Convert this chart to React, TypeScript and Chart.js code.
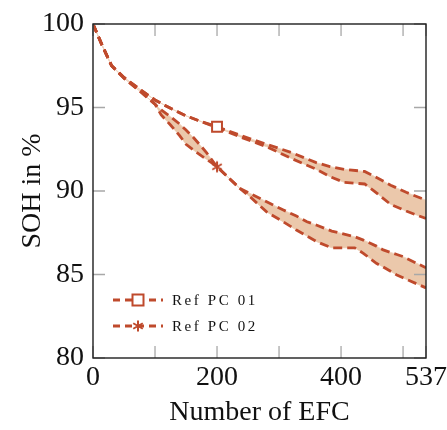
import React, { useEffect, useRef } from 'react';
import { Chart, registerables } from 'chart.js';

Chart.register(...registerables);

// ---- data ----
const xTicks = [0, 100, 200, 300, 400, 500, 537];
const xTickLabels = ['0', '', '200', '', '400', '', '537'];
const yTicks = [80, 85, 90, 95, 100];

const pc01X = [0, 15, 30, 50, 75, 100, 125, 150, 175, 200, 240, 280, 320, 360, 382, 405, 438, 455, 480, 505, 537];
const pc01Upper = [100, 98.7, 97.5, 96.8, 96.1, 95.45, 94.95, 94.5, 94.15, 93.85, 93.3, 92.8, 92.3, 91.7, 91.46, 91.3, 91.17, 90.85, 90.35, 89.92, 89.45];
const pc01Lower = [100, 98.7, 97.5, 96.8, 96.1, 95.45, 94.95, 94.5, 94.15, 93.8, 93.2, 92.65, 91.95, 91.3, 90.86, 90.52, 90.42, 89.95, 89.2, 88.8, 88.35];

const pc02X = [0, 15, 30, 50, 75, 100, 110, 125, 140, 150, 162, 175, 183, 191, 200, 237, 253, 280, 307, 328, 345, 361, 385, 422, 436, 457, 468, 490, 500, 537];
const pc02Upper = [100, 98.7, 97.5, 96.75, 96.0, 95.2, 94.85, 94.45, 94.0, 93.65, 93.2, 92.65, 92.3, 91.9, 91.45, 90.15, 89.86, 89.35, 88.86, 88.5, 88.16, 87.95, 87.6, 87.26, 87.06, 86.7, 86.47, 86.2, 86.07, 85.4];
const pc02Lower = [100, 98.7, 97.5, 96.75, 96.0, 95.2, 94.55, 93.95, 93.3, 92.8, 92.45, 92.1, 91.9, 91.7, 91.45, 90.15, 89.66, 88.75, 88.15, 87.66, 87.3, 86.96, 86.6, 86.6, 86.27, 85.67, 85.45, 84.97, 84.8, 84.2];

const markerEFC = 200;
const seriesLabels = ['Ref PC 01', 'Ref PC 02'];
const xTitle = 'Number of EFC';
const yTitle = 'SOH in %';

// ---- styles ----
const LINE = '#BF4A2C';
const FILL = '#EBC8AB';
const EDGE = '#F1D6C2';
const FONT = "'Liberation Serif', 'Times New Roman', serif";

function pts(xs: number[], ys: number[]) {
  return xs.map((x, i) => ({ x, y: ys[i] }));
}

function makeStar(color: string, size = 14) {
  const c = document.createElement('canvas');
  c.width = size;
  c.height = size;
  const g = c.getContext('2d')!;
  g.strokeStyle = color;
  g.lineWidth = 2;
  g.beginPath();
  const r = 5.5;
  const m = size / 2;
  for (const a of [90, 30, 150]) {
    const dx = r * Math.cos((a * Math.PI) / 180);
    const dy = r * Math.sin((a * Math.PI) / 180);
    g.moveTo(m - dx, m - dy);
    g.lineTo(m + dx, m + dy);
  }
  g.stroke();
  return c;
}

function drawSquare(ctx: CanvasRenderingContext2D, x: number, y: number) {
  ctx.save();
  ctx.setLineDash([]);
  ctx.fillStyle = '#fff';
  ctx.strokeStyle = LINE;
  ctx.lineWidth = 2;
  ctx.fillRect(x - 5.5, y - 5.5, 11, 11);
  ctx.strokeRect(x - 5.5, y - 5.5, 11, 11);
  ctx.restore();
}

export default function App() {
  const ref = useRef<HTMLCanvasElement>(null);

  useEffect(() => {
    const star = makeStar(LINE);
    const atMarker = (ctx: any) => (ctx.raw && ctx.raw.x === markerEFC ? 7 : 0);

    const fillDs = (data: any[], fill: any) => ({
      data,
      borderColor: EDGE,
      borderWidth: 1,
      backgroundColor: FILL,
      fill,
      pointRadius: 0,
      tension: 0,
      order: 2,
    });
    const dashDs = (data: any[], marker: any) => ({
      data,
      borderColor: LINE,
      borderWidth: 2.8,
      borderDash: [9, 5],
      fill: false,
      tension: 0,
      order: 1,
      pointRadius: marker ? atMarker : 0,
      pointStyle: marker || 'circle',
      pointBackgroundColor: '#fff',
      pointBorderColor: LINE,
      pointBorderWidth: 2,
    });

    const framePlugin = {
      id: 'frame',
      afterDatasetsDraw(chart: any) {
        const { ctx, chartArea: a, scales } = chart;
        const xs = scales.x;
        const ys = scales.y;
        ctx.save();
        ctx.setLineDash([]);
        ctx.strokeStyle = '#a8a8a8';
        ctx.lineWidth = 1.3;
        ctx.beginPath();
        for (const v of xTicks) {
          const px = xs.getPixelForValue(v);
          ctx.moveTo(px, a.bottom);
          ctx.lineTo(px, a.bottom - 12);
          ctx.moveTo(px, a.top);
          ctx.lineTo(px, a.top + 12);
        }
        for (const v of yTicks) {
          const py = ys.getPixelForValue(v);
          ctx.moveTo(a.left, py);
          ctx.lineTo(a.left + 12, py);
          ctx.moveTo(a.right, py);
          ctx.lineTo(a.right - 12, py);
        }
        ctx.stroke();
        ctx.strokeStyle = '#1e1e1e';
        ctx.lineWidth = 1.4;
        ctx.strokeRect(a.left, a.top, a.right - a.left, a.bottom - a.top);

        // legend
        const rows = [a.top + 276, a.top + 302];
        seriesLabels.forEach((label, i) => {
          const y = rows[i];
          const x0 = a.left + 20;
          const x1 = a.left + 70;
          const xm = a.left + 45;
          ctx.save();
          ctx.strokeStyle = LINE;
          ctx.lineWidth = 2.8;
          ctx.setLineDash([7, 5]);
          ctx.beginPath();
          ctx.moveTo(x0, y);
          ctx.lineTo(x1, y);
          ctx.stroke();
          ctx.setLineDash([]);
          ctx.restore();
          if (i === 0) drawSquare(ctx, xm, y);
          else ctx.drawImage(star, xm - star.width / 2, y - star.height / 2);
          ctx.save();
          ctx.fillStyle = '#111';
          ctx.font = `15px ${FONT}`;
          (ctx as any).letterSpacing = '2.6px';
          ctx.textAlign = 'left';
          ctx.textBaseline = 'middle';
          ctx.fillText(label, a.left + 79, y + 1);
          ctx.restore();
        });
        ctx.restore();
      },
    };

    const chart = new Chart(ref.current!, {
      type: 'line',
      data: {
        datasets: [
          fillDs(pts(pc01X, pc01Upper), '+1'),
          fillDs(pts(pc01X, pc01Lower), false),
          fillDs(pts(pc02X, pc02Upper), '+1'),
          fillDs(pts(pc02X, pc02Lower), false),
          dashDs(pts(pc01X, pc01Upper), 'rect'),
          dashDs(pts(pc01X, pc01Lower), null),
          dashDs(pts(pc02X, pc02Upper), star),
          dashDs(pts(pc02X, pc02Lower), null),
        ] as any,
      },
      options: {
        responsive: false,
        animation: false,
        events: [],
        layout: { padding: { top: 24, right: 21, left: 0, bottom: 0 } },
        plugins: {
          legend: { display: false },
          tooltip: { enabled: false },
        },
        scales: {
          x: {
            type: 'linear',
            min: 0,
            max: 537,
            grid: { display: false, drawTicks: false },
            border: { display: false },
            afterBuildTicks: (s: any) => {
              s.ticks = xTicks.map((v) => ({ value: v }));
            },
            afterFit: (s: any) => {
              s.height = 72;
              s.paddingLeft = 0;
              s.paddingRight = 0;
            },
            ticks: {
              autoSkip: false,
              maxRotation: 0,
              padding: 3,
              color: '#111',
              font: { family: FONT, size: 28 },
              callback: (v: any) => {
                const i = xTicks.indexOf(Number(v));
                return i >= 0 ? xTickLabels[i] : '';
              },
            },
            title: {
              display: true,
              text: xTitle,
              color: '#111',
              font: { family: FONT, size: 28 },
              padding: { top: 0, bottom: 1 },
            },
          },
          y: {
            type: 'linear',
            min: 80,
            max: 100,
            grid: { display: false, drawTicks: false },
            border: { display: false },
            afterBuildTicks: (s: any) => {
              s.ticks = yTicks.map((v) => ({ value: v }));
            },
            afterFit: (s: any) => {
              s.width = 93;
              s.paddingTop = 0;
              s.paddingBottom = 0;
            },
            ticks: {
              padding: 9,
              color: '#111',
              font: { family: FONT, size: 28 },
            },
            title: {
              display: true,
              text: yTitle,
              color: '#111',
              font: { family: FONT, size: 28 },
              padding: { top: 16, bottom: 0 },
            },
          },
        },
      },
      plugins: [framePlugin],
    });
    return () => chart.destroy();
  }, []);

  return (
    <div style={{ position: 'absolute', left: 0, top: 0, width: 447, height: 430, background: '#fff' }}>
      <canvas ref={ref} width={447} height={430} style={{ display: 'block' }} />
    </div>
  );
}
